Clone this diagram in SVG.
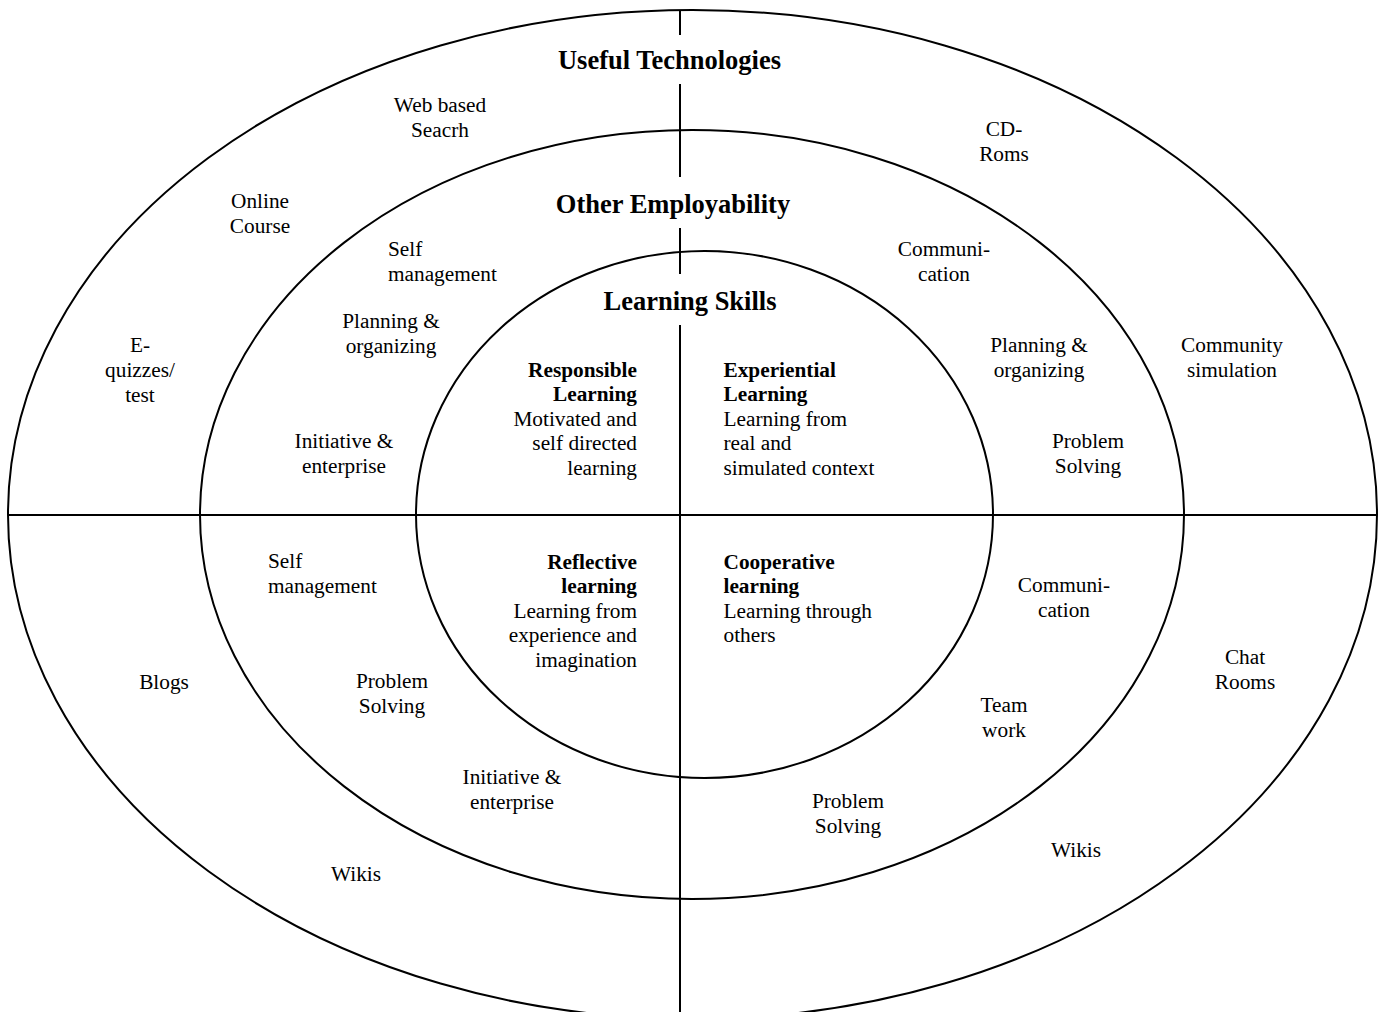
<svg xmlns="http://www.w3.org/2000/svg" width="1384" height="1012" viewBox="0 0 1384 1012">
  <style>
    .ring { fill: none; stroke: #000; stroke-width: 2; }
    .axis { stroke: #000; stroke-width: 2; fill: none; }
    text { font-family: "Liberation Serif", "Times New Roman", serif; fill: #000; }
    .lbl { font-size: 21.3px; text-anchor: middle; }
    .lft { font-size: 21.3px; text-anchor: start; }
    .rgt { font-size: 21.3px; text-anchor: end; }
    .b { font-weight: bold; }
    .title { font-size: 26.5px; font-weight: bold; text-anchor: middle; }
  </style>
  <rect width="1384" height="1012" fill="#fff"/>

  <!-- concentric rings -->
  <g id="rings">
    <ellipse id="ring-outer" class="ring" cx="692.5" cy="514.5" rx="684.5" ry="504.5"/>
    <ellipse id="ring-middle" class="ring" cx="692" cy="514.5" rx="492" ry="384.5"/>
    <ellipse id="ring-inner" class="ring" cx="704.5" cy="514.5" rx="288.5" ry="263.5"/>
  </g>

  <!-- quadrant dividers -->
  <g id="connectors">
    <line class="axis" x1="8" y1="515" x2="1377" y2="515"/>
    <path class="axis" d="M680 10 V35 M680 84 V177 M680 228 V274 M680 325 V1012"/>
  </g>

  <g id="titles">
    <text id="title-tech" class="title" x="669.5" y="69">Useful Technologies</text>
    <text id="title-employ" class="title" x="673" y="213">Other Employability</text>
    <text id="title-learn" class="title" x="690" y="310">Learning Skills</text>
  </g>

  <!-- learning skills quadrants -->
  <g id="responsible-learning">
    <text class="rgt" x="637" y="376.5"><tspan class="b">Responsible</tspan><tspan class="b" x="637" dy="24.5">Learning</tspan><tspan x="637" dy="24.5">Motivated and</tspan><tspan x="637" dy="24.5">self directed</tspan><tspan x="637" dy="24.5">learning</tspan></text>
  </g>
  <g id="experiential-learning">
    <text class="lft" x="723.5" y="376.5"><tspan class="b">Experiential</tspan><tspan class="b" x="723.5" dy="24.5">Learning</tspan><tspan x="723.5" dy="24.5">Learning from</tspan><tspan x="723.5" dy="24.5">real and</tspan><tspan x="723.5" dy="24.5">simulated context</tspan></text>
  </g>
  <g id="reflective-learning">
    <text class="rgt" x="637" y="568.5"><tspan class="b">Reflective</tspan><tspan class="b" x="637" dy="24.5">learning</tspan><tspan x="637" dy="24.5">Learning from</tspan><tspan x="637" dy="24.5">experience and</tspan><tspan x="637" dy="24.5">imagination</tspan></text>
  </g>
  <g id="cooperative-learning">
    <text class="lft" x="723.5" y="568.5"><tspan class="b">Cooperative</tspan><tspan class="b" x="723.5" dy="24.5">learning</tspan><tspan x="723.5" dy="24.5">Learning through</tspan><tspan x="723.5" dy="24.5">others</tspan></text>
  </g>

  <!-- employability skills (middle ring) -->
  <g id="emp-self-management-1"><text class="lft" x="388" y="256">Self<tspan x="388" dy="25">management</tspan></text></g>
  <g id="emp-planning-1"><text class="lbl" x="391" y="328">Planning &amp;<tspan x="391" dy="25">organizing</tspan></text></g>
  <g id="emp-initiative-1"><text class="lbl" x="344" y="448">Initiative &amp;<tspan x="344" dy="25">enterprise</tspan></text></g>
  <g id="emp-communication-1"><text class="lbl" x="944" y="256">Communi-<tspan x="944" dy="25">cation</tspan></text></g>
  <g id="emp-planning-2"><text class="lbl" x="1039" y="352">Planning &amp;<tspan x="1039" dy="25">organizing</tspan></text></g>
  <g id="emp-problem-1"><text class="lbl" x="1088" y="448">Problem<tspan x="1088" dy="25">Solving</tspan></text></g>
  <g id="emp-self-management-2"><text class="lft" x="268" y="568">Self<tspan x="268" dy="25">management</tspan></text></g>
  <g id="emp-problem-2"><text class="lbl" x="392" y="688">Problem<tspan x="392" dy="25">Solving</tspan></text></g>
  <g id="emp-initiative-2"><text class="lbl" x="512" y="784">Initiative &amp;<tspan x="512" dy="25">enterprise</tspan></text></g>
  <g id="emp-communication-2"><text class="lbl" x="1064" y="592">Communi-<tspan x="1064" dy="25">cation</tspan></text></g>
  <g id="emp-teamwork"><text class="lbl" x="1004" y="712">Team<tspan x="1004" dy="25">work</tspan></text></g>
  <g id="emp-problem-3"><text class="lbl" x="848" y="808">Problem<tspan x="848" dy="25">Solving</tspan></text></g>

  <!-- technologies (outer ring) -->
  <g id="tech-web-search"><text class="lbl" x="440" y="112">Web based<tspan x="440" dy="25">Seacrh</tspan></text></g>
  <g id="tech-cdroms"><text class="lbl" x="1004" y="136">CD-<tspan x="1004" dy="25">Roms</tspan></text></g>
  <g id="tech-online-course"><text class="lbl" x="260" y="208">Online<tspan x="260" dy="25">Course</tspan></text></g>
  <g id="tech-equizzes"><text class="lbl" x="140" y="352">E-<tspan x="140" dy="25">quizzes/</tspan><tspan x="140" dy="25">test</tspan></text></g>
  <g id="tech-community-sim"><text class="lbl" x="1232" y="352">Community<tspan x="1232" dy="25">simulation</tspan></text></g>
  <g id="tech-blogs"><text class="lbl" x="164" y="689">Blogs</text></g>
  <g id="tech-chat-rooms"><text class="lbl" x="1245" y="664">Chat<tspan x="1245" dy="25">Rooms</tspan></text></g>
  <g id="tech-wikis-1"><text class="lbl" x="356" y="881">Wikis</text></g>
  <g id="tech-wikis-2"><text class="lbl" x="1076" y="857">Wikis</text></g>
</svg>
